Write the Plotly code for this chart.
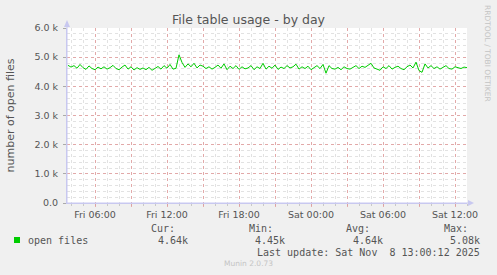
import pandas as pd
import plotly.graph_objects as go

# ---------------- data ----------------
start_time = "2025-11-07 03:45"
step = "15min"
open_files_k = [
    4.72, 4.66, 4.71, 4.62, 4.75, 4.64, 4.58, 4.70, 4.61, 4.57, 4.66, 4.60,
    4.67, 4.59, 4.64, 4.72, 4.61, 4.57, 4.66, 4.73, 4.59, 4.67, 4.56, 4.64,
    4.58, 4.63, 4.57, 4.65, 4.55, 4.62, 4.68, 4.59, 4.71, 4.62, 4.75, 4.59,
    4.62, 5.08, 4.82, 4.65, 4.77, 4.67, 4.79, 4.63, 4.73, 4.69, 4.61, 4.67,
    4.59, 4.65, 4.73, 4.62, 4.77, 4.57, 4.69, 4.61, 4.71, 4.58, 4.67, 4.60,
    4.63, 4.71, 4.57, 4.67, 4.61, 4.79, 4.59, 4.69, 4.62, 4.73, 4.58, 4.66,
    4.61, 4.71, 4.63, 4.67, 4.76, 4.59, 4.67, 4.61, 4.69, 4.57, 4.65, 4.71,
    4.61, 4.75, 4.45, 4.71, 4.61, 4.59, 4.65, 4.57, 4.67, 4.61, 4.59, 4.66,
    4.71, 4.61, 4.69, 4.65, 4.73, 4.79, 4.63, 4.59, 4.55, 4.67, 4.61, 4.71,
    4.59, 4.65, 4.69, 4.61, 4.57, 4.67, 4.73, 4.63, 4.83, 4.54, 4.48, 4.77,
    4.63, 4.71, 4.61, 4.67, 4.59, 4.65, 4.71, 4.61, 4.59, 4.67, 4.63, 4.61,
    4.66, 4.64,
]
x_range = ["2025-11-07 03:40", "2025-11-08 13:00"]
x_tick_times = ["2025-11-07 06:00", "2025-11-07 09:00", "2025-11-07 12:00",
                "2025-11-07 15:00", "2025-11-07 18:00", "2025-11-07 21:00",
                "2025-11-08 00:00", "2025-11-08 03:00", "2025-11-08 06:00",
                "2025-11-08 09:00", "2025-11-08 12:00"]
x_tick_labels = ["Fri 06:00", "", "Fri 12:00", "", "Fri 18:00", "",
                 "Sat 00:00", "", "Sat 06:00", "", "Sat 12:00"]
y_tick_vals = [0, 1000, 2000, 3000, 4000, 5000, 6000]
y_tick_labels = ["0.0", "1.0 k", "2.0 k", "3.0 k", "4.0 k", "5.0 k", "6.0 k"]
series_name = "open files"
stats_headers = ["Cur:", "Min:", "Avg:", "Max:"]
stats_values = ["4.64k", "4.45k", "4.64k", "5.08k"]
last_update = "Last update: Sat Nov  8 13:00:12 2025"

times = pd.date_range(start_time, periods=len(open_files_k), freq=step)
values = [v * 1000 for v in open_files_k]

# ---------------- figure ----------------
W, H = 497, 275
L, R, T, B = 67, 30, 28, 72
PW, PH = W - L - R, H - T - B

def px(xp):
    return (xp - L) / PW

def py(yp):
    return (H - B - yp) / PH

fig = go.Figure()
fig.add_trace(go.Scatter(x=times, y=values, mode="lines",
                         line=dict(color="#00cc00", width=1),
                         hoverinfo="skip", showlegend=False))

MAJ = "rgba(225,150,150,0.75)"
MIN = "#e2e2e2"
AX = "#c8c8f0"
TXT = "#555555"

fig.update_layout(
    width=W, height=H,
    margin=dict(l=L, r=R, t=T, b=B, autoexpand=False),
    paper_bgcolor="#f0f0f0", plot_bgcolor="#ffffff",
    font=dict(family="DejaVu Sans", color=TXT, size=10),
    showlegend=False,
    xaxis=dict(
        range=x_range, tickmode="array", tickvals=x_tick_times,
        ticktext=x_tick_labels, showgrid=True, gridcolor=MAJ, griddash="dot",
        gridwidth=1, ticks="outside", ticklen=3, tickcolor=MAJ,
        tickfont=dict(size=9.5, color=TXT), automargin=False,
        showline=True, linecolor=AX, linewidth=1, zeroline=False,
        minor=dict(dtick=3600000, tick0="2025-11-07 00:00", showgrid=True,
                   gridcolor=MIN, griddash="dot", gridwidth=1,
                   ticks="outside", ticklen=2, tickcolor="#c8c8c8"),
    ),
    yaxis=dict(
        range=[0, 6000], tickmode="array", tickvals=y_tick_vals,
        ticktext=y_tick_labels, showgrid=True, gridcolor=MAJ, griddash="dot",
        gridwidth=1, ticks="outside", ticklen=3, tickcolor="#aaaaaa",
        ticklabelstandoff=3, automargin=False,
        tickfont=dict(size=9.5, color=TXT),
        showline=True, linecolor=AX, linewidth=1, zeroline=False,
        title=dict(text="number of open files", font=dict(size=11, color=TXT), standoff=17),
        minor=dict(dtick=200, showgrid=True, gridcolor=MIN, griddash="dot",
                   gridwidth=1),
    ),
)

# axis arrows
fig.add_shape(type="path", xref="paper", yref="paper",
              path=f"M {px(64)} {py(27)} L {px(70)} {py(27)} L {px(67)} {py(20)} Z",
              fillcolor=AX, line=dict(width=0))
fig.add_shape(type="path", xref="paper", yref="paper",
              path=f"M {px(468)} {py(200)} L {px(468)} {py(206)} L {px(474)} {py(203)} Z",
              fillcolor=AX, line=dict(width=0))
fig.add_shape(type="line", xref="paper", yref="paper",
              x0=px(67), x1=px(67), y0=py(203), y1=py(26), line=dict(color=AX, width=1))
fig.add_shape(type="line", xref="paper", yref="paper",
              x0=px(67), x1=px(469), y0=py(203), y1=py(203), line=dict(color=AX, width=1))

# legend swatch
fig.add_shape(type="rect", xref="paper", yref="paper",
              x0=px(14), x1=px(20), y0=py(237), y1=py(243),
              fillcolor="#00cc00", line=dict(width=0))

def ann(text, x, y, size=10, color=TXT, family="DejaVu Sans Mono", xanchor="left",
        textangle=0):
    fig.add_annotation(text=text.replace(" ", "\u00a0"), x=px(x), y=py(y),
                       xref="paper", yref="paper", showarrow=False,
                       xanchor=xanchor, yanchor="middle", textangle=textangle,
                       font=dict(size=size, color=color, family=family))

# title
ann("File table usage - by day", 248.5, 19, size=12.5, family="DejaVu Sans",
    xanchor="center")
# side text
ann("RRDTOOL / TOBI OETIKER", 488, 53, size=7.5, color="#c4c4c4",
    family="DejaVu Sans", xanchor="center", textangle=90)

ann(series_name, 26, 240)
header_right = [177, 275, 372, 470]
value_right = [190, 287, 385, 482]
for h, v, hx, vx in zip(stats_headers, stats_values, header_right, value_right):
    ann(h, hx, 228, xanchor="right")
    ann(v, vx, 240, xanchor="right")
ann(last_update, 482, 252, xanchor="right")
ann("Munin 2.0.73", 248, 263, size=7.5, color="#c4c4c4", family="DejaVu Sans",
    xanchor="center")

fig.write_html("out.html")
